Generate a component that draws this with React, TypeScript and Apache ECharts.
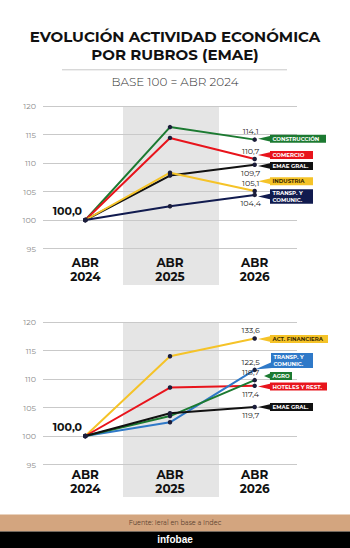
import React, { useEffect, useRef } from "react";
import * as echarts from "echarts";

// Periods shared by both panels
const categories = ["ABR\n2024", "ABR\n2025", "ABR\n2026"];
const yMin = 95;
const yMax = 120;
const yStep = 5;

// Upper panel: index, base 100 = ABR 2024
const construccion = [100, 116.3, 114.1];
const comercio = [100, 114.4, 110.7];
const emaeTop = [100, 107.8, 109.7];
const industria = [100, 108.3, 105.1];
const transpTop = [100, 102.4, 104.4];

// Lower panel
const actFinanciera = [100, 114.0, 117.1];
const hoteles = [100, 108.5, 108.8];
const emaeBottom = [100, 104.0, 105.1];
const agro = [100, 103.5, 109.8];
const transpBottom = [100, 102.4, 111.6];
// Figures printed next to the lower panel's last points
const lowerEndFigures = {
  actFinanciera: "133,6",
  transp: "122,5",
  agro: "118,7",
  hoteles: "117,4",
  emae: "119,7",
};

const GREEN = "#1c7a31";
const RED = "#e8141c";
const BLACK = "#111111";
const YELLOW = "#f5c328";
const NAVY = "#111b4f";
const BLUE = "#2f79c8";
const DOT = "#1b1d3a";
const FONT = "Montserrat, Inter, 'Open Sans', sans-serif";

const fmt = (v: number) => v.toFixed(1).replace(".", ",");

type LabelPos = "top" | "bottom";

function lineSeries(
  name: string,
  values: number[],
  color: string,
  panel: number,
  endPos: LabelPos,
  endText?: string,
  startLabel = false
) {
  return {
    type: "line",
    name,
    xAxisIndex: panel,
    yAxisIndex: panel,
    symbol: "circle",
    symbolSize: 4.5,
    showAllSymbol: true,
    silent: true,
    lineStyle: { color, width: 2 },
    itemStyle: { color: DOT },
    emphasis: { disabled: true },
    data: values.map((v, i) => {
      if (i === values.length - 1) {
        return {
          value: v,
          label: {
            show: true,
            position: endPos,
            distance: 2,
            offset: [-4, 0],
            formatter: () => endText ?? fmt(v),
            fontSize: 8,
            fontFamily: FONT,
            color: "#222",
          },
        };
      }
      if (i === 0 && startLabel) {
        return {
          value: v,
          label: {
            show: true,
            position: "left",
            distance: 1,
            offset: [0, -9],
            formatter: () => fmt(v),
            fontSize: 11,
            fontWeight: "bold",
            fontFamily: FONT,
            color: "#111",
          },
        };
      }
      return v;
    }),
  };
}

type Tag = {
  text: string;
  color: string;
  textColor: string;
  x: number;
  cy: number;
  w: number;
  h: number;
  tipX: number;
  tipY?: number;
};

const tagLayoutTop: Tag[] = [
  { text: "CONSTRUCCIÓN", color: GREEN, textColor: "#fff", x: 270, cy: 138.8, w: 56, h: 8, tipX: 258 },
  { text: "COMERCIO", color: RED, textColor: "#fff", x: 270, cy: 155, w: 43, h: 8, tipX: 258 },
  { text: "EMAE GRAL.", color: BLACK, textColor: "#fff", x: 270, cy: 166, w: 43, h: 8, tipX: 258 },
  { text: "INDUSTRIA", color: YELLOW, textColor: "#3b2a00", x: 270, cy: 181.3, w: 43, h: 8, tipX: 258 },
  { text: "TRANSP. Y\nCOMUNIC.", color: NAVY, textColor: "#fff", x: 270, cy: 196.5, w: 43, h: 14.5, tipX: 258 },
];

const tagLayoutBottom: Tag[] = [
  { text: "ACT. FINANCIERA", color: YELLOW, textColor: "#3b2a00", x: 270, cy: 339, w: 58, h: 8, tipX: 258 },
  { text: "TRANSP. Y\nCOMUNIC.", color: BLUE, textColor: "#fff", x: 271, cy: 360.5, w: 42, h: 15, tipX: 255, tipY: 369.5 },
  { text: "AGRO", color: GREEN, textColor: "#fff", x: 270, cy: 376, w: 22, h: 8, tipX: 264 },
  { text: "HOTELES Y REST.", color: RED, textColor: "#fff", x: 270, cy: 386.5, w: 57, h: 8, tipX: 258 },
  { text: "EMAE GRAL.", color: BLACK, textColor: "#fff", x: 270, cy: 407, w: 43, h: 8, tipX: 258 },
];

function tagElements(t: Tag) {
  const top = t.cy - t.h / 2;
  const tipY = t.tipY ?? t.cy;
  const baseY = Math.min(Math.max(tipY, top + 3), top + t.h - 3);
  return [
    {
      type: "polygon",
      z: 50,
      shape: {
        points: [
          [t.tipX, tipY],
          [t.x + 1, baseY - 3],
          [t.x + 1, baseY + 3],
        ],
      },
      style: { fill: t.color },
    },
    {
      type: "rect",
      z: 50,
      shape: { x: t.x, y: top, width: t.w, height: t.h },
      style: { fill: t.color },
    },
    {
      type: "text",
      z: 51,
      style: {
        text: t.text,
        x: t.x + 2.5,
        y: t.cy,
        fill: t.textColor,
        font: `bold 5.5px ${FONT}`,
        lineHeight: 6.8,
        textAlign: "left",
        textVerticalAlign: "middle",
      },
    },
  ];
}

function xAxis(gridIndex: number, margin: number, lineHeight: number) {
  return {
    type: "category",
    gridIndex,
    data: categories,
    boundaryGap: true,
    axisLine: { show: false },
    axisTick: { show: false },
    axisLabel: {
      margin,
      lineHeight,
      fontSize: 12,
      fontWeight: "bold",
      fontFamily: FONT,
      color: "#111",
    },
  };
}

function yAxis(gridIndex: number) {
  return {
    type: "value",
    gridIndex,
    min: yMin,
    max: yMax,
    interval: yStep,
    axisLine: { show: false },
    axisTick: { show: false },
    axisLabel: { fontSize: 8, color: "#8a8a8a", margin: 7, fontFamily: FONT },
    splitLine: { lineStyle: { color: "#c9c9c9", width: 1 } },
  };
}

export default function App() {
  const ref = useRef<HTMLDivElement>(null);

  useEffect(() => {
    document.body.style.margin = "0";
    if (!ref.current) return;
    const chart = echarts.init(ref.current, undefined, { renderer: "svg" });

    const graphicElements: any[] = [
      // shaded band behind the 2025 column
      { type: "rect", z: -10, shape: { x: 123, y: 106, width: 96, height: 179 }, style: { fill: "#e5e5e5" } },
      { type: "rect", z: -10, shape: { x: 123, y: 322, width: 96, height: 175 }, style: { fill: "#e5e5e5" } },
      {
        type: "text",
        style: {
          text: "EVOLUCIÓN ACTIVIDAD ECONÓMICA\nPOR RUBROS (EMAE)",
          x: 175,
          y: 45.5,
          fill: "#111",
          font: `bold 15px ${FONT}`,
          lineHeight: 18,
          textAlign: "center",
          textVerticalAlign: "middle",
        },
      },
      {
        type: "line",
        shape: { x1: 62, y1: 69.8, x2: 287, y2: 69.8 },
        style: { stroke: "#c8c8c8", lineWidth: 1 },
      },
      {
        type: "text",
        style: {
          text: "BASE 100 = ABR 2024",
          x: 175,
          y: 81.5,
          fill: "#333",
          font: `300 12px ${FONT}`,
          textAlign: "center",
          textVerticalAlign: "middle",
        },
      },
      // footer
      { type: "rect", shape: { x: 0, y: 514.5, width: 350, height: 17 }, style: { fill: "#d3a57f" } },
      {
        type: "text",
        style: {
          text: "Fuente: Ieral en base a Indec",
          x: 175,
          y: 523,
          fill: "#5b4230",
          font: `6.5px ${FONT}`,
          textAlign: "center",
          textVerticalAlign: "middle",
        },
      },
      { type: "rect", shape: { x: 0, y: 531.5, width: 350, height: 17 }, style: { fill: "#000" } },
      {
        type: "text",
        style: {
          text: "infobae",
          x: 175,
          y: 539.5,
          fill: "#fff",
          font: `bold 10px 'Liberation Sans', Arial, sans-serif`,
          textAlign: "center",
          textVerticalAlign: "middle",
        },
      },
      ...tagLayoutTop.flatMap(tagElements),
      ...tagLayoutBottom.flatMap(tagElements),
    ];

    chart.setOption({
      animation: false,
      backgroundColor: "#ffffff",
      grid: [
        { left: 43, width: 254, top: 106, height: 142.5 },
        { left: 43, width: 254, top: 322, height: 142.5 },
      ],
      xAxis: [xAxis(0, 7, 14), xAxis(1, 3, 14)],
      yAxis: [yAxis(0), yAxis(1)],
      series: [
        lineSeries("Construcción", construccion, GREEN, 0, "top"),
        lineSeries("Comercio", comercio, RED, 0, "top"),
        lineSeries("EMAE gral.", emaeTop, BLACK, 0, "bottom", undefined, true),
        lineSeries("Industria", industria, YELLOW, 0, "top"),
        lineSeries("Transp. y comunic.", transpTop, NAVY, 0, "bottom"),

        lineSeries("Act. financiera", actFinanciera, YELLOW, 1, "top", lowerEndFigures.actFinanciera),
        lineSeries("Hoteles y rest.", hoteles, RED, 1, "bottom", lowerEndFigures.hoteles),
        lineSeries("Transp. y comunic.", transpBottom, BLUE, 1, "top", lowerEndFigures.transp),
        lineSeries("Agro", agro, GREEN, 1, "top", lowerEndFigures.agro),
        lineSeries("EMAE gral.", emaeBottom, BLACK, 1, "bottom", lowerEndFigures.emae, true),
      ],
      graphic: { elements: graphicElements },
    });

    return () => chart.dispose();
  }, []);

  return (
    <div
      ref={ref}
      style={{ position: "absolute", left: 0, top: 0, width: 350, height: 548 }}
    />
  );
}
